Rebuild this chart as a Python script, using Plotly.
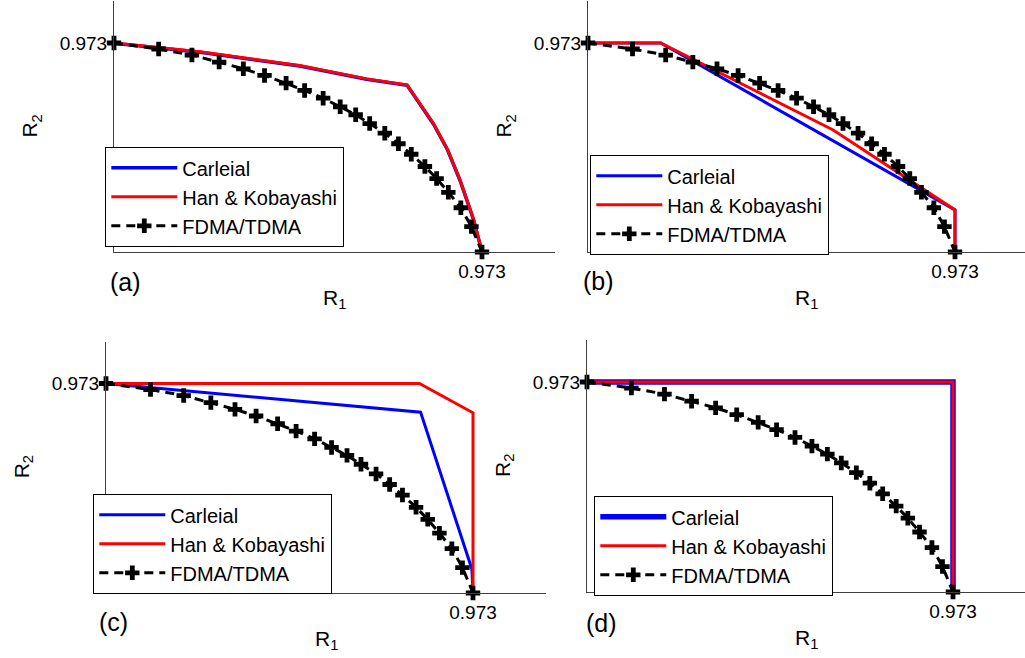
import plotly.graph_objects as go

W, H = 1025, 658
V = 0.973

# ---- data ----
fdma_r1 = [0.0, 0.118, 0.206, 0.278, 0.342, 0.398, 0.455, 0.504, 0.553, 0.598, 0.639,
           0.676, 0.716, 0.752, 0.786, 0.822, 0.853, 0.884, 0.917, 0.945, 0.973]
fdma_r2 = [0.973, 0.945, 0.917, 0.884, 0.853, 0.822, 0.786, 0.752, 0.716, 0.676, 0.639,
           0.598, 0.553, 0.504, 0.455, 0.398, 0.342, 0.278, 0.206, 0.118, 0.0]

# panel (a)
a_hk_r1 = [0.0, 0.228, 0.491, 0.668, 0.775, 0.845, 0.882, 0.915, 0.950, 0.973]
a_hk_r2 = [0.973, 0.932, 0.868, 0.806, 0.778, 0.597, 0.477, 0.335, 0.156, 0.0]
a_ca_r1 = [0.0, 0.228, 0.491, 0.668, 0.775, 0.845, 0.882, 0.915, 0.950, 0.973]
a_ca_r2 = [0.972, 0.930, 0.866, 0.804, 0.776, 0.595, 0.475, 0.333, 0.154, 0.0]
# panel (b)
b_hk_r1 = [0.0, 0.193, 0.650, 0.973, 0.973]
b_hk_r2 = [0.973, 0.973, 0.568, 0.196, 0.0]
b_ca_r1 = [0.0, 0.193, 0.973, 0.973]
b_ca_r2 = [0.973, 0.973, 0.196, 0.0]
# panel (c)
c_hk_r1 = [0.0, 0.831, 0.973, 0.973]
c_hk_r2 = [0.973, 0.973, 0.837, 0.0]
c_ca_r1 = [0.0, 0.834, 0.970, 0.973]
c_ca_r2 = [0.973, 0.840, 0.111, 0.0]
# panel (d)
d_hk_r1 = [0.0, 0.973, 0.973]
d_hk_r2 = [0.973, 0.973, 0.0]
d_ca_r1 = [0.0, 0.973, 0.973]
d_ca_r2 = [0.973, 0.973, 0.0]

tick_vals = [0.973]
tick_text = ["0.973"]
panel_labels = ["(a)", "(b)", "(c)", "(d)"]
series_names = ["Carleial", "Han & Kobayashi", "FDMA/TDMA"]

# ---- layout geometry (pixels) ----
# x0, x973, xend, y0, y973
geo = [
    (114, 482, 555, 252, 43.0),
    (588, 955, 1025, 252, 43.0),
    (106, 473, 546, 593, 383.5),
    (587, 953, 1025, 592, 382.0),
]
legend_pos = [(105, 147), (590, 155), (93, 494), (594, 496)]
label_pos = [(125, 282), (598, 281), (113, 622), (601, 623)]

FONT = "Liberation Sans, Arial, sans-serif"

panels = [
    (a_ca_r1, a_ca_r2, a_hk_r1, a_hk_r2, 3.5),
    (b_ca_r1, b_ca_r2, b_hk_r1, b_hk_r2, 3),
    (c_ca_r1, c_ca_r2, c_hk_r1, c_hk_r2, 3),
    (d_ca_r1, d_ca_r2, d_hk_r1, d_hk_r2, 5.5),
]

fig = go.Figure()
layout = dict(width=W, height=H, margin=dict(l=0, r=0, t=0, b=0),
              paper_bgcolor="white", plot_bgcolor="white", showlegend=True,
              font=dict(family=FONT, color="black"))
annotations = []

for i, (cx, cy, hx, hy, bw) in enumerate(panels):
    k = "" if i == 0 else str(i + 1)
    xa, ya = "x" + k, "y" + k
    leg = "legend" + k
    common = dict(xaxis=xa, yaxis=ya, legend=leg, cliponaxis=False)
    fig.add_trace(go.Scatter(x=cx, y=cy, mode="lines", name=series_names[0],
                             line=dict(color="#0000ff", width=bw), **common))
    fig.add_trace(go.Scatter(x=hx, y=hy, mode="lines", name=series_names[1],
                             line=dict(color="#ff0000", width=3), **common))
    fig.add_trace(go.Scatter(x=fdma_r1, y=fdma_r2, mode="lines+markers", name=series_names[2],
                             line=dict(color="black", width=3, dash="9px,6px"),
                             marker=dict(symbol="cross", size=12, color="black"),
                             **common))

    x0, x973, xend, y0, y973 = geo[i]
    xmax = (xend - x0) / (x973 - x0) * V
    ytop = y0 - 1.2 * (y0 - y973)
    ax = dict(showline=True, linecolor="#404040", linewidth=1, showgrid=False,
              zeroline=False, ticks="", tickvals=tick_vals, ticktext=tick_text,
              tickfont=dict(size=19, family=FONT, color="black"), fixedrange=True)
    layout["xaxis" + k] = dict(ax, domain=[x0 / W, xend / W], range=[0, xmax],
                               anchor=ya, ticklabelstandoff=2)
    layout["yaxis" + k] = dict(ax, domain=[1 - y0 / H, 1 - ytop / H], range=[0, 1.2 * V],
                               anchor=xa, ticklabelstandoff=2)
    lx, ly = legend_pos[i]
    layout[leg] = dict(x=lx / W, y=1 - ly / H, xanchor="left", yanchor="top",
                       bgcolor="white", bordercolor="black", borderwidth=1.3,
                       font=dict(size=20, family=FONT, color="black"),
                       itemwidth=66, traceorder="normal")
    # axis titles and panel letter
    annotations.append(dict(text="R<sub>1</sub>", x=(x0 + xend) / 2 / W, y=1 - (y0 + 47) / H,
                            xref="paper", yref="paper", xanchor="center", yanchor="middle",
                            showarrow=False, font=dict(size=21, family=FONT)))
    annotations.append(dict(text="R<sub>2</sub>", x=(x0 - 83) / W, y=1 - (y0 + ytop) / 2 / H,
                            xref="paper", yref="paper", xanchor="center", yanchor="middle",
                            showarrow=False, textangle=-90, font=dict(size=21, family=FONT)))
    px, py = label_pos[i]
    annotations.append(dict(text=panel_labels[i], x=px / W, y=1 - py / H,
                            xref="paper", yref="paper", xanchor="center", yanchor="middle",
                            showarrow=False, font=dict(size=25, family=FONT)))

layout["annotations"] = annotations
fig.update_layout(**layout)
fig.write_html("out.html", config={"displayModeBar": False},
               post_script="document.body.style.margin='0px';document.body.style.overflow='hidden';")
